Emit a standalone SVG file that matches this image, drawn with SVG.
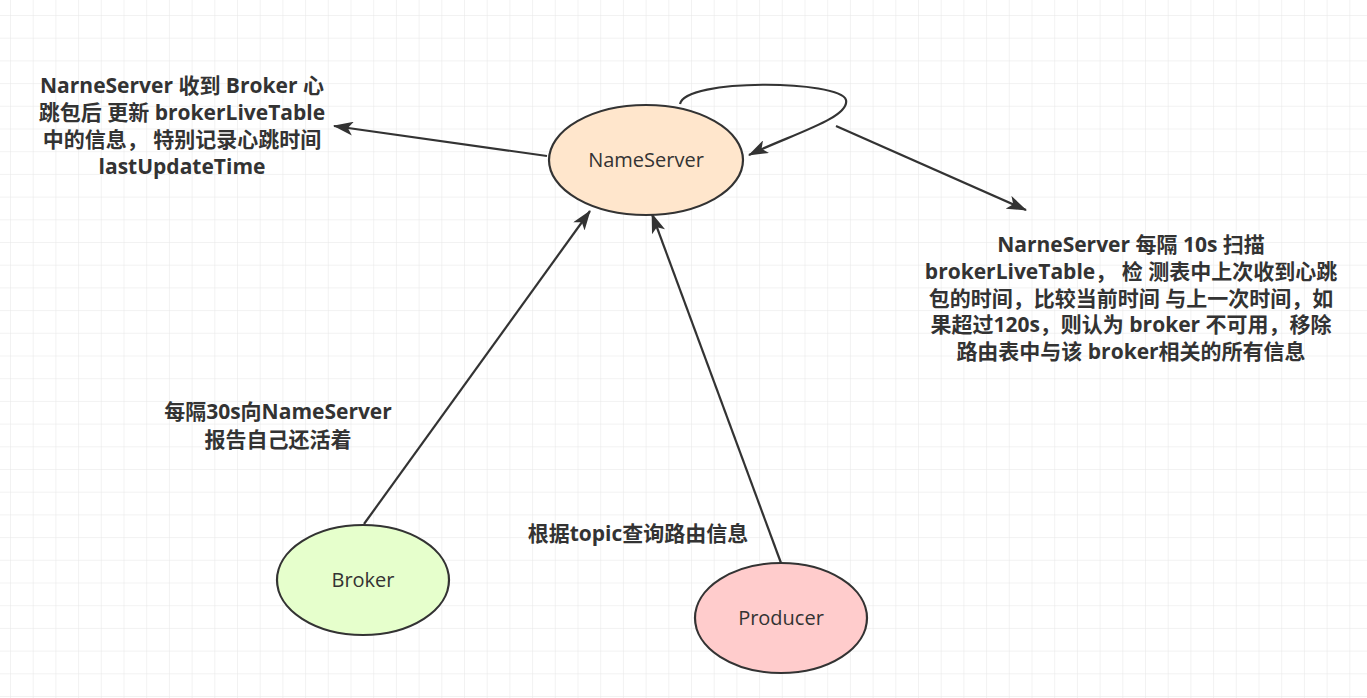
<svg xmlns="http://www.w3.org/2000/svg" width="1367" height="698" viewBox="0 0 1367 698">
<defs>
<pattern id="grid" x="10" y="15" width="22.7" height="22.7" patternUnits="userSpaceOnUse">
<path d="M 0 0 H 22.7 M 0 0 V 22.7" fill="none" stroke="#e6e6e6" stroke-width="1"/>
</pattern>
<marker id="arr" viewBox="0 0 20 14" refX="19" refY="7" markerWidth="20" markerHeight="14" markerUnits="userSpaceOnUse" orient="auto">
<path d="M 0 0 L 20 7 L 0 14 L 5 7 Z" fill="#333"/>
</marker>
<style>
.node ellipse{stroke:#333;stroke-width:2.2}
.nl{font-family:"Open Sans","Noto Sans CJK SC",sans-serif;font-size:20px;fill:#333;text-anchor:middle}
.lb{font-family:"Open Sans","Noto Sans CJK SC",sans-serif;font-size:21px;font-weight:bold;fill:#333;text-anchor:middle}
.edge{fill:none;stroke:#333;stroke-width:2.2;marker-end:url(#arr)}
</style>
</defs>
<rect width="1367" height="698" fill="#fff"/>
<rect width="1367" height="698" fill="url(#grid)"/>
<g id="connectors">
<path class="edge" d="M 547 156 L 334 126"/>
<path class="edge" d="M 680 104 C 685 78, 840 80, 846 100 C 850 118, 790 135, 749 155"/>
<path class="edge" d="M 836 126 L 1026 210"/>
<path class="edge" d="M 364 524 L 590 211"/>
<path class="edge" d="M 781 563 L 652 214"/>
</g>
<g id="NameServer" class="node">
<ellipse cx="646" cy="160" rx="97" ry="55" fill="#ffe6cc"/>
<text class="nl" x="646" y="167">NameServer</text>
</g>
<g id="Broker" class="node">
<ellipse cx="363" cy="580" rx="86" ry="55" fill="#e6ffcc"/>
<text class="nl" x="363" y="587">Broker</text>
</g>
<g id="Producer" class="node">
<ellipse cx="781" cy="618" rx="86" ry="55" fill="#ffcccc"/>
<text class="nl" x="781" y="625">Producer</text>
</g>
<g id="label-update">
<text class="lb" x="182" y="93">NarneServer 收到 Broker 心</text>
<text class="lb" x="182" y="120">跳包后 更新 brokerLiveTable</text>
<text class="lb" x="182" y="147">中的信息， 特别记录心跳时间</text>
<text class="lb" x="182" y="174">lastUpdateTime</text>
</g>
<g id="label-scan">
<text class="lb" x="1131" y="252">NarneServer 每隔 10s 扫描</text>
<text class="lb" x="1131" y="279">brokerLiveTable， 检 测表中上次收到心跳</text>
<text class="lb" x="1131" y="306">包的时间，比较当前时间 与上一次时间，如</text>
<text class="lb" x="1131" y="332">果超过120s，则认为 broker 不可用，移除</text>
<text class="lb" x="1131" y="359">路由表中与该 broker相关的所有信息</text>
</g>
<g id="label-broker">
<text class="lb" x="278" y="419">每隔30s向NameServer</text>
<text class="lb" x="278" y="447">报告自己还活着</text>
</g>
<g id="label-producer">
<text class="lb" x="638" y="541">根据topic查询路由信息</text>
</g>
</svg>
